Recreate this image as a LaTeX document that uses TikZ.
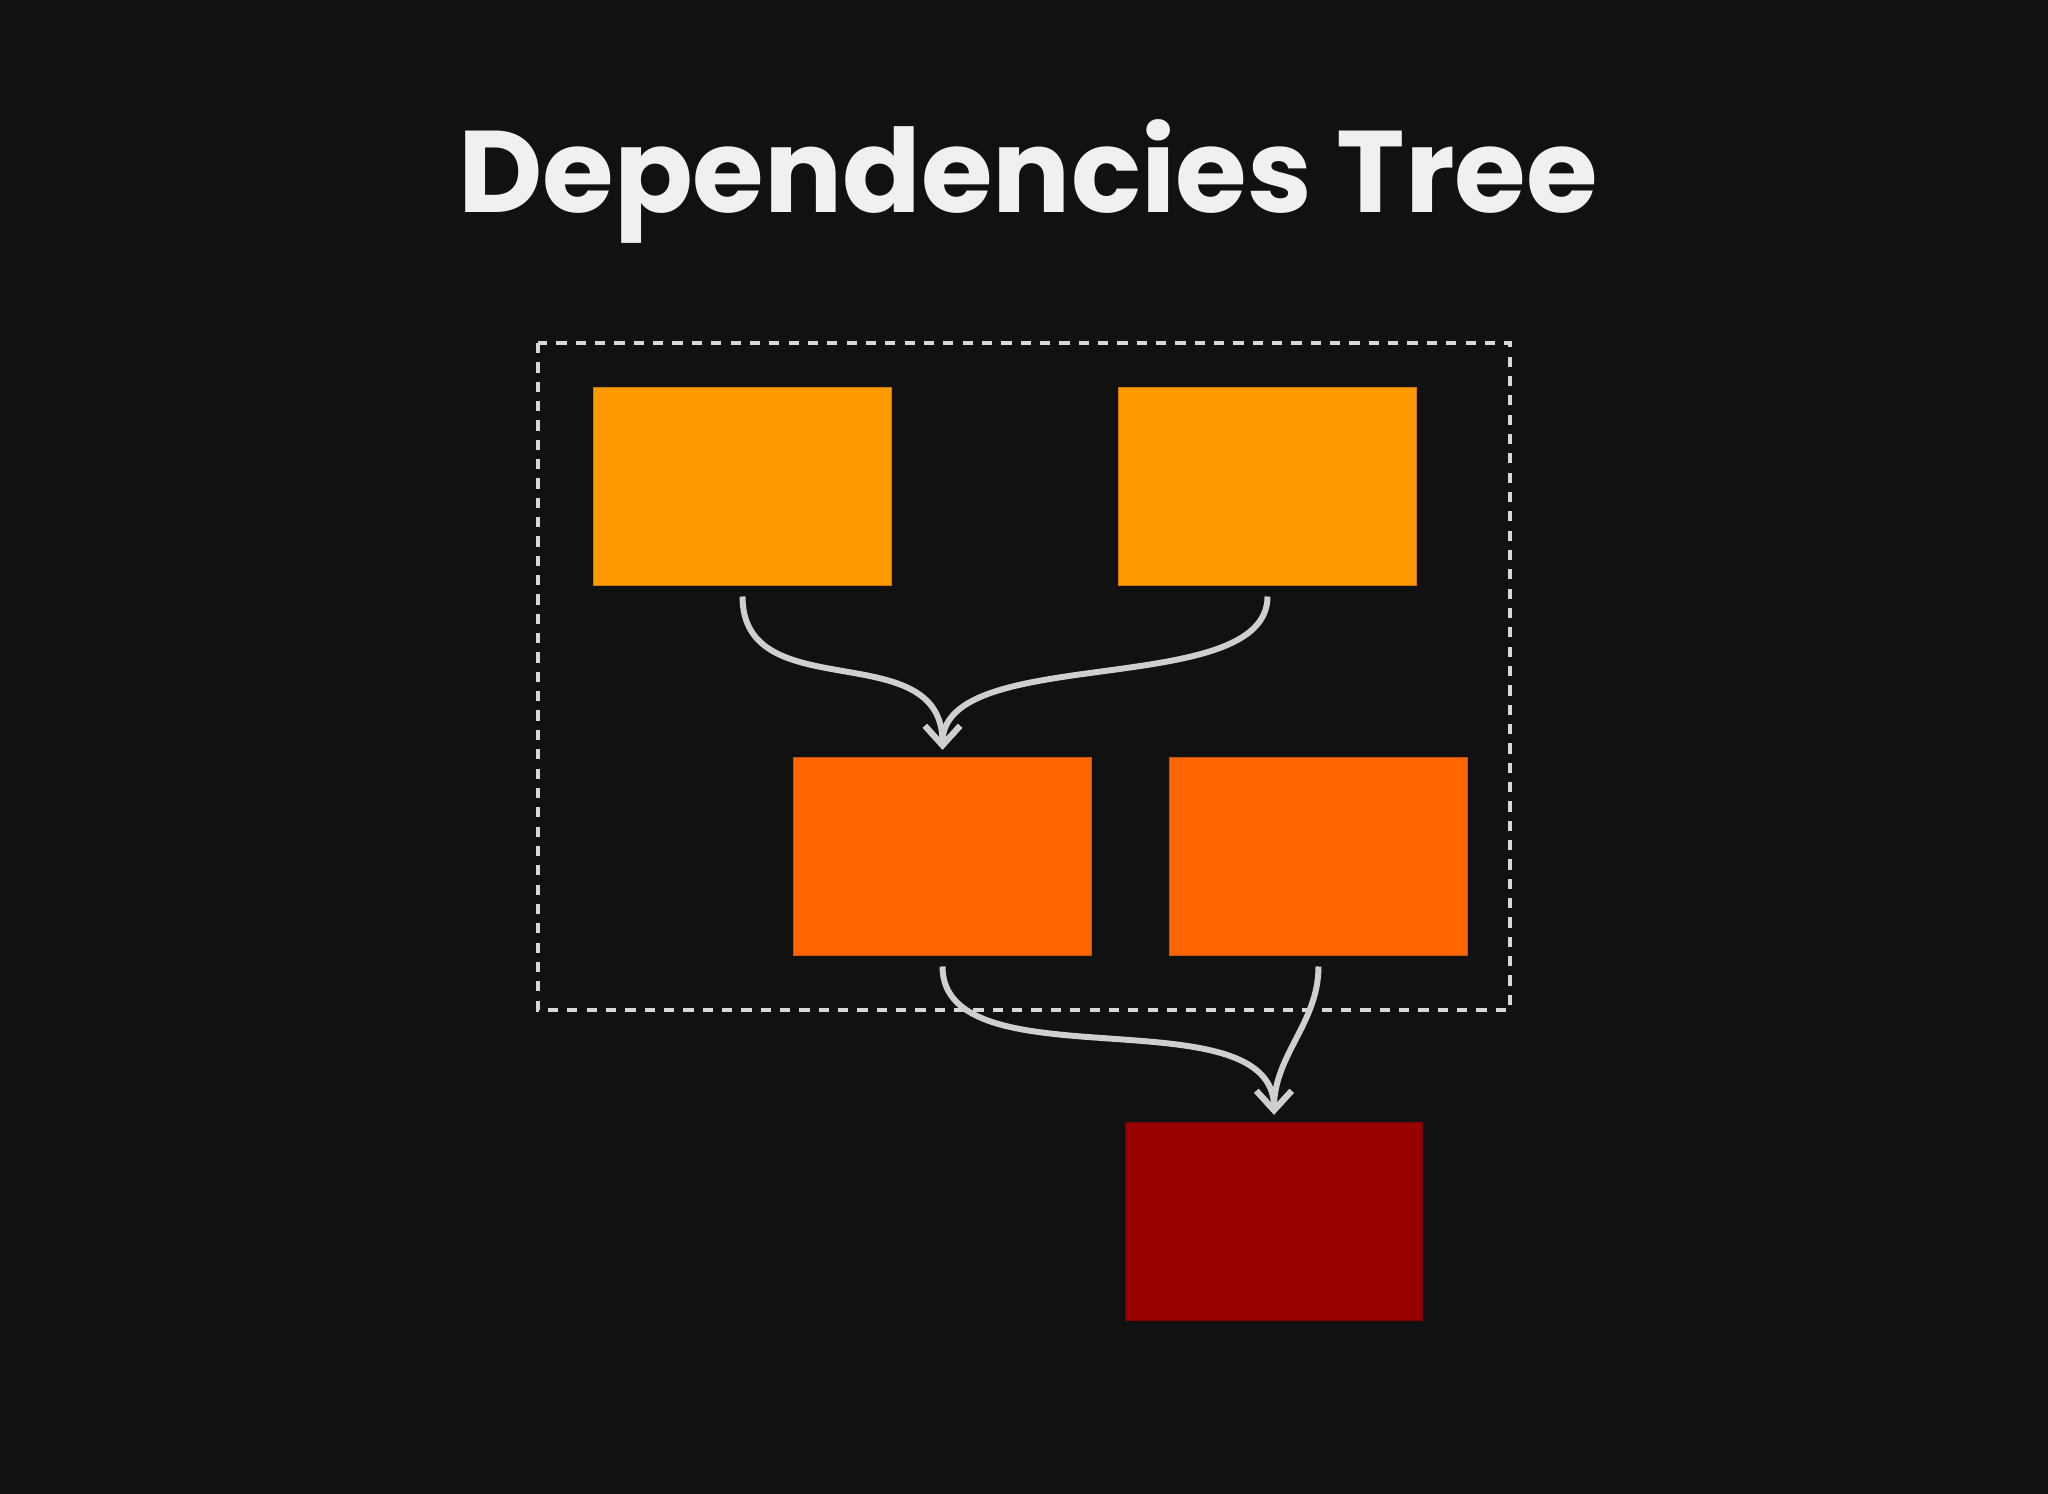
\documentclass[tikz,border=0pt]{standalone}
\usepackage{fontspec}
\setsansfont{Poppins}
\usetikzlibrary{arrows.meta}
\definecolor{bg}{HTML}{111112}
\definecolor{ink}{HTML}{F0F0F0}
\definecolor{topbox}{HTML}{FF9900}
\definecolor{midbox}{HTML}{FF6600}
\definecolor{lowbox}{HTML}{990000}
\definecolor{wire}{HTML}{CFCFCF}
\definecolor{frame}{HTML}{D8D8D8}

\begin{document}
\begin{tikzpicture}[x=0.01cm, y=-0.01cm,
    box/.style={minimum width=2.97cm, minimum height=1.97cm, inner sep=0pt, fill=#1, draw=#1!80!black, line width=0.3pt},
    dep/.style={draw=wire, line width=1.7pt, -{Straight Barb[length=5.5pt, width=10pt, line width=1.7pt]}, shorten <=3.1pt, shorten >=2.2pt}]
    \fill[bg] (0,0) rectangle (2048,1494);
    \node[anchor=base, text=ink, font=\sffamily\bfseries\fontsize{33}{40}\selectfont] (title) at (1028,213) {Dependencies Tree};
    \draw[frame, line width=1.2pt, dash pattern=on 2.9pt off 2.6pt] (538,343) rectangle (1510,1010);
    \node[box=topbox] (tl) at (742.5,486.5) {};
    \node[box=topbox] (tr) at (1267.5,486.5) {};
    \node[box=midbox] (ml) at (942.5,856.5) {};
    \node[box=midbox] (mr) at (1318.5,856.5) {};
    \node[box=lowbox] (bt) at (1274,1221.5) {};
    \draw[dep] (tl.south) to[out=-90, in=90, looseness=1.2] (ml.north);
    \draw[dep] (tr.south) to[out=-90, in=90, looseness=0.8] (ml.north);
    \draw[dep] (ml.south) to[out=-90, in=90, looseness=0.9] (bt.north);
    \draw[dep] (mr.south) to[out=-90, in=90] (bt.north);
\end{tikzpicture}
\end{document}
